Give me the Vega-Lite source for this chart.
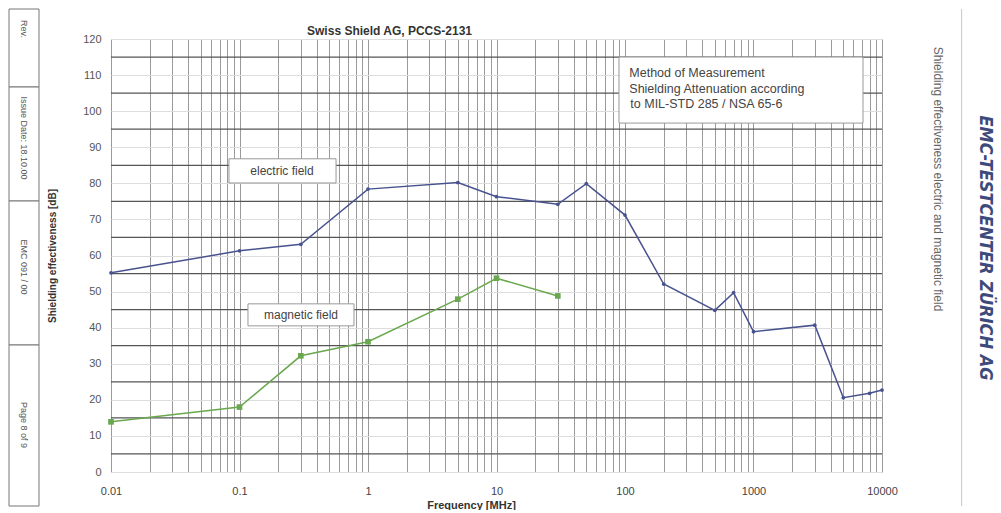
{
  "$schema": "https://vega.github.io/schema/vega-lite/v6.json",
  "padding": {"left": 8, "top": 8, "right": 0, "bottom": 0},
  "background": "white",
  "spacing": 7,
  "config": {"view": {"stroke": null}, "font": "Liberation Sans", "axis": {"labelOverlap": false, "labelSeparation": 0}, "axisY": {"labelOverlap": false}},
  "datasets": {
    "form": [
      {"label": "Rev.", "from": 0, "to": 78, "pos": 20},
      {"label": "Issue Date:  18.10.00", "from": 78, "to": 192, "pos": 129},
      {"label": "EMC 091 / 00", "from": 192, "to": 336, "pos": 258},
      {"label": "Page 8 of 9", "from": 336, "to": 497, "pos": 416}
    ],
    "hlines": [
      {"db": 5}, {"db": 15}, {"db": 25}, {"db": 35}, {"db": 45}, {"db": 55},
      {"db": 65}, {"db": 75}, {"db": 85}, {"db": 95}, {"db": 105}, {"db": 115}
    ],
    "boxes": [
      {"name": "electric", "x0": 0.0828, "x1": 0.564, "y0": 80.1, "y1": 86.8},
      {"name": "magnetic", "x0": 0.1164, "x1": 0.778, "y0": 40.5, "y1": 46.6},
      {"name": "method", "x0": 89.8, "x1": 7115, "y0": 96.7, "y1": 115}
    ],
    "labels": [
      {"x": 0.214, "y": 83.4, "text": "electric field"},
      {"x": 0.301, "y": 43.5, "text": "magnetic field"}
    ],
    "method": [
      {"x": 108, "y": 110.7, "text": "Method of Measurement"},
      {"x": 108, "y": 106.2, "text": "Shielding Attenuation according"},
      {"x": 110, "y": 101.9, "text": "to MIL-STD 285 / NSA 65-6"}
    ],
    "series": [
      {"series": "electric", "freq": 0.01, "db": 55.2},
      {"series": "electric", "freq": 0.1, "db": 61.3},
      {"series": "electric", "freq": 0.3, "db": 63.1},
      {"series": "electric", "freq": 1, "db": 78.4},
      {"series": "electric", "freq": 5, "db": 80.2},
      {"series": "electric", "freq": 10, "db": 76.3},
      {"series": "electric", "freq": 30, "db": 74.2},
      {"series": "electric", "freq": 50, "db": 79.9},
      {"series": "electric", "freq": 100, "db": 71.2},
      {"series": "electric", "freq": 200, "db": 52.1},
      {"series": "electric", "freq": 500, "db": 44.8},
      {"series": "electric", "freq": 700, "db": 49.7},
      {"series": "electric", "freq": 1000, "db": 38.9},
      {"series": "electric", "freq": 3000, "db": 40.7},
      {"series": "electric", "freq": 5000, "db": 20.6},
      {"series": "electric", "freq": 8000, "db": 21.8},
      {"series": "electric", "freq": 10000, "db": 22.7},
      {"series": "magnetic", "freq": 0.01, "db": 13.9},
      {"series": "magnetic", "freq": 0.1, "db": 18.0},
      {"series": "magnetic", "freq": 0.3, "db": 32.2},
      {"series": "magnetic", "freq": 1, "db": 36.1},
      {"series": "magnetic", "freq": 5, "db": 47.9},
      {"series": "magnetic", "freq": 10, "db": 53.7},
      {"series": "magnetic", "freq": 30, "db": 48.8}
    ],
    "side": [
      {"item": "caption", "text": "Shielding effectiveness electric and magnetic field"},
      {"item": "line", "text": ""},
      {"item": "company", "text": "EMC-TESTCENTER  ZÜRICH AG"}
    ]
  },
  "hconcat": [
    {
      "width": 30,
      "height": 433,
      "data": {"name": "form"},
      "layer": [
        {
          "mark": {"type": "rect", "fill": "white", "stroke": "#777777", "strokeWidth": 1, "clip": false},
          "encoding": {
            "y": {"field": "from", "type": "quantitative", "scale": {"domain": [30, 463], "reverse": true, "nice": false, "zero": false}, "axis": null},
            "y2": {"field": "to"}
          }
        },
        {
          "mark": {"type": "text", "angle": 90, "fontSize": 9, "color": "#555555"},
          "encoding": {
            "y": {"field": "pos", "type": "quantitative", "scale": {"domain": [30, 463], "reverse": true, "nice": false, "zero": false}, "axis": null},
            "text": {"field": "label"}
          }
        }
      ]
    },
    {
      "width": 771,
      "height": 433,
      "title": {"text": "Swiss Shield AG, PCCS-2131", "frame": "group", "anchor": "middle", "dx": -107, "dy": 8, "fontSize": 12, "fontWeight": "bold", "color": "#333333", "offset": 3},
      "layer": [
        {
          "data": {"name": "hlines"},
          "mark": {"type": "rule", "color": "#555555", "strokeWidth": 1.3},
          "encoding": {
            "y": {
              "field": "db", "type": "quantitative",
              "scale": {"domain": [0, 120], "nice": false, "zero": false},
              "axis": {
                "tickCount": 12,
                "grid": true, "gridColor": "#dddddd", "gridWidth": 1,
                "ticks": false, "domain": false, "labelOverlap": false, "labelBound": false,
                "labelFontSize": 11, "labelColor": "#555555", "labelPadding": 10,
                "minExtent": 50, "maxExtent": 50,
                "title": "Shielding effectiveness [dB]", "titleFontSize": 10, "titleFontWeight": "bold", "titleColor": "#333333", "titlePadding": 4
              }
            }
          }
        },
        {
          "data": {"name": "boxes"},
          "mark": {"type": "rect", "fill": "white", "stroke": "#999999", "strokeWidth": 1},
          "encoding": {
            "x": {"field": "x0", "type": "quantitative", "scale": {"type": "log", "domain": [0.01, 10000], "nice": false}},
            "x2": {"field": "x1"},
            "y": {"field": "y0", "type": "quantitative", "scale": {"domain": [0, 120], "nice": false, "zero": false}},
            "y2": {"field": "y1"}
          }
        },
        {
          "data": {"name": "labels"},
          "mark": {"type": "text", "fontSize": 12, "color": "#444444", "align": "center", "baseline": "middle"},
          "encoding": {
            "x": {"field": "x", "type": "quantitative", "scale": {"type": "log", "domain": [0.01, 10000], "nice": false}},
            "y": {"field": "y", "type": "quantitative", "scale": {"domain": [0, 120], "nice": false, "zero": false}},
            "text": {"field": "text"}
          }
        },
        {
          "data": {"name": "method"},
          "mark": {"type": "text", "fontSize": 12.5, "color": "#444444", "align": "left", "baseline": "middle"},
          "encoding": {
            "x": {"field": "x", "type": "quantitative", "scale": {"type": "log", "domain": [0.01, 10000], "nice": false}},
            "y": {"field": "y", "type": "quantitative", "scale": {"domain": [0, 120], "nice": false, "zero": false}},
            "text": {"field": "text"}
          }
        },
        {
          "data": {"name": "series"},
          "mark": {"type": "line", "strokeWidth": 1.5},
          "encoding": {
            "x": {
              "field": "freq", "type": "quantitative",
              "scale": {"type": "log", "domain": [0.01, 10000], "nice": false},
              "axis": {
                "values": [0.01, 0.02, 0.03, 0.04, 0.05, 0.06, 0.07, 0.08, 0.09, 0.1, 0.2, 0.3, 0.4, 0.5, 0.6, 0.7, 0.8, 0.9, 1, 2, 3, 4, 5, 6, 7, 8, 9, 10, 20, 30, 40, 50, 60, 70, 80, 90, 100, 200, 300, 400, 500, 600, 700, 800, 900, 1000, 2000, 3000, 4000, 5000, 6000, 7000, 8000, 9000, 10000],
                "grid": true, "gridColor": "#9a9a9a", "gridWidth": 1,
                "ticks": false, "domain": false,
                "labelExpr": "indexof([0.01, 0.1, 1, 10, 100, 1000, 10000], datum.value) >= 0 ? format(datum.value, '~g') : ''",
                "labelFlush": false, "labelOverlap": false,
                "labelFontSize": 11, "labelColor": "#444444", "labelPadding": 13,
                "title": "Frequency  [MHz]", "titleFontSize": 11, "titleFontWeight": "bold", "titleColor": "#333333", "titlePadding": 3, "titleX": 360
              }
            },
            "y": {"field": "db", "type": "quantitative", "scale": {"domain": [0, 120], "nice": false, "zero": false}},
            "color": {"field": "series", "type": "nominal", "scale": {"domain": ["electric", "magnetic"], "range": ["#48528f", "#6aa84f"]}, "legend": null}
          }
        },
        {
          "data": {"name": "series"},
          "mark": {"type": "point", "filled": true, "opacity": 1},
          "encoding": {
            "x": {"field": "freq", "type": "quantitative", "scale": {"type": "log", "domain": [0.01, 10000], "nice": false}},
            "y": {"field": "db", "type": "quantitative", "scale": {"domain": [0, 120], "nice": false, "zero": false}},
            "color": {"field": "series", "type": "nominal", "scale": {"domain": ["electric", "magnetic"], "range": ["#48528f", "#6aa84f"]}, "legend": null},
            "shape": {"field": "series", "type": "nominal", "scale": {"domain": ["electric", "magnetic"], "range": ["circle", "square"]}, "legend": null},
            "size": {"field": "series", "type": "nominal", "scale": {"domain": ["electric", "magnetic"], "range": [14, 32]}, "legend": null}
          }
        }
      ]
    },
    {
      "width": 93,
      "height": 433,
      "view": {"fill": "white", "stroke": null},
      "data": {"name": "side"},
      "layer": [
        {
          "transform": [{"filter": "datum.item == 'line'"}],
          "mark": {"type": "rule", "color": "#c8c8c8", "strokeWidth": 1, "clip": false},
          "encoding": {
            "x": {"field": "item", "type": "nominal", "scale": {"type": "point", "domain": ["caption", "line", "company"], "padding": 0.979, "align": 0.72}, "axis": null},
            "y": {"datum": 0, "type": "quantitative", "scale": {"domain": [30, 463], "reverse": true, "nice": false, "zero": false}, "axis": null},
            "y2": {"datum": 497}
          }
        },
        {
          "transform": [{"filter": "datum.item == 'caption'"}],
          "mark": {"type": "text", "angle": 90, "fontSize": 12, "color": "#666666", "dx": -76.5},
          "encoding": {
            "x": {"field": "item", "type": "nominal", "scale": {"type": "point", "domain": ["caption", "line", "company"], "padding": 0.979, "align": 0.72}, "axis": null},
            "text": {"field": "text"}
          }
        },
        {
          "transform": [{"filter": "datum.item == 'company'"}],
          "mark": {"type": "text", "angle": 90, "fontSize": 18, "fontWeight": "bold", "fontStyle": "italic", "color": "#3d4a7c", "font": "Liberation Sans Narrow, DejaVu Sans Condensed, Liberation Sans", "dx": -7.5},
          "encoding": {
            "x": {"field": "item", "type": "nominal", "scale": {"type": "point", "domain": ["caption", "line", "company"], "padding": 0.979, "align": 0.72}, "axis": null},
            "text": {"field": "text"}
          }
        }
      ]
    }
  ]
}
